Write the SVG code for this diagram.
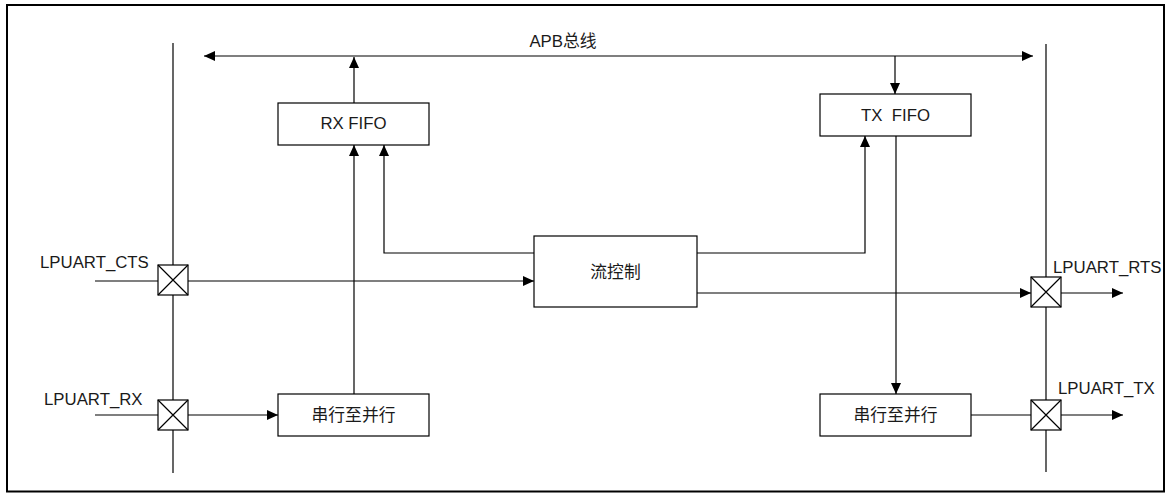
<svg xmlns="http://www.w3.org/2000/svg" width="1171" height="494" viewBox="0 0 1171 494">
<style>
.box{fill:#fff;stroke:#000;stroke-width:1.2}
.ln{fill:none;stroke:#000;stroke-width:1.2}
.pad{fill:#fff;stroke:#000;stroke-width:1.2}
.t{font-family:"Liberation Sans","Noto Sans CJK SC",Arial,sans-serif;font-size:16.8px;fill:#1a1a1a}
.c{text-anchor:middle}
</style>
<defs>
<marker id="ah" markerWidth="12" markerHeight="10" refX="11" refY="5" orient="auto-start-reverse" markerUnits="userSpaceOnUse">
<path d="M0,0 L11,5 L0,10 Z" fill="#000"/>
</marker>
</defs>
<rect x="0" y="0" width="1171" height="494" fill="#fff"/>
<rect x="7" y="5" width="1157" height="486.5" fill="none" stroke="#000" stroke-width="2"/>

<g id="connectors">
<line class="ln" x1="173" y1="43" x2="173" y2="473"/>
<line class="ln" x1="1046" y1="44" x2="1046" y2="472"/>
<line class="ln" x1="204" y1="56" x2="1033" y2="56" marker-start="url(#ah)" marker-end="url(#ah)"/>
<line class="ln" x1="354" y1="103" x2="354" y2="57" marker-end="url(#ah)"/>
<line class="ln" x1="895" y1="56" x2="895" y2="94" marker-end="url(#ah)"/>
<line class="ln" x1="354" y1="394" x2="354" y2="145" marker-end="url(#ah)"/>
<polyline class="ln" points="534,253 384,253 384,145" marker-end="url(#ah)"/>
<polyline class="ln" points="697,253 865,253 865,136" marker-end="url(#ah)"/>
<line class="ln" x1="896" y1="136" x2="896" y2="394" marker-end="url(#ah)"/>
<line class="ln" x1="95" y1="281" x2="158" y2="281"/>
<line class="ln" x1="188" y1="281" x2="534" y2="281" marker-end="url(#ah)"/>
<line class="ln" x1="697" y1="293" x2="1031" y2="293" marker-end="url(#ah)"/>
<line class="ln" x1="1061" y1="293" x2="1123" y2="293" marker-end="url(#ah)"/>
<line class="ln" x1="95" y1="415" x2="158" y2="415"/>
<line class="ln" x1="188" y1="415" x2="278" y2="415" marker-end="url(#ah)"/>
<line class="ln" x1="971" y1="415" x2="1031" y2="415"/>
<line class="ln" x1="1061" y1="415" x2="1123" y2="415" marker-end="url(#ah)"/>
</g>

<g id="apb-label"><text class="t c" x="563" y="47">APB总线</text></g>

<g id="rx-fifo"><rect class="box" x="278" y="103" width="151" height="42"/><text class="t c" x="353.5" y="129">RX FIFO</text></g>
<g id="tx-fifo"><rect class="box" x="820" y="94" width="151" height="42"/><text class="t c" x="895.5" y="121" xml:space="preserve">TX  FIFO</text></g>
<g id="flow-ctrl"><rect class="box" x="534" y="236" width="163" height="71"/><text class="t c" x="615.5" y="278">流控制</text></g>
<g id="rx-s2p"><rect class="box" x="278" y="394" width="151" height="42"/><text class="t c" x="353.5" y="421">串行至并行</text></g>
<g id="tx-s2p"><rect class="box" x="820" y="394" width="151" height="42"/><text class="t c" x="895.5" y="421">串行至并行</text></g>

<g id="pad-cts"><rect class="pad" x="158" y="265" width="30" height="30"/><path class="ln" d="M158,265 L188,295 M188,265 L158,295"/><text class="t" x="40" y="268">LPUART_CTS</text></g>
<g id="pad-rx"><rect class="pad" x="158" y="400" width="30" height="30"/><path class="ln" d="M158,400 L188,430 M188,400 L158,430"/><text class="t" x="44" y="405">LPUART_RX</text></g>
<g id="pad-rts"><rect class="pad" x="1031" y="277" width="30" height="30"/><path class="ln" d="M1031,277 L1061,307 M1061,277 L1031,307"/><text class="t" x="1053" y="273">LPUART_RTS</text></g>
<g id="pad-tx"><rect class="pad" x="1031" y="400" width="30" height="30"/><path class="ln" d="M1031,400 L1061,430 M1061,400 L1031,430"/><text class="t" x="1058" y="394">LPUART_TX</text></g>
</svg>
